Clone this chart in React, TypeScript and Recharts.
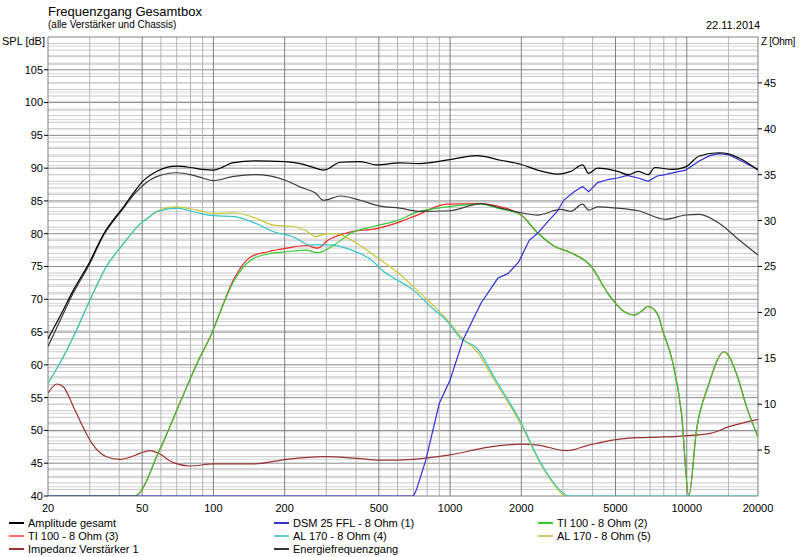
import React from 'react';
import { LineChart, Line, XAxis, YAxis, ReferenceLine } from 'recharts';

// ---- tick labels ----
const xTicks = [20, 50, 100, 200, 500, 1000, 2000, 5000, 10000, 20000];
const xMinorGrid = [30, 40, 60, 70, 80, 90, 300, 400, 600, 700, 800, 900, 3000, 4000, 6000, 7000, 8000, 9000, 15000];
const leftTicks = [40, 45, 50, 55, 60, 65, 70, 75, 80, 85, 90, 95, 100, 105];
const rightTicks = [5, 10, 15, 20, 25, 30, 35, 40, 45];

// ---- Amplitude gesamt ----
const ampF = [20, 22.4, 25.6, 30, 34.4, 41.7, 47, 50, 57.5, 70, 80, 90, 100, 110, 120, 150, 200, 233, 260, 292, 345, 417, 490, 614, 745, 1000, 1300, 1635, 1985, 2343, 2850, 3236, 3628, 3850, 4200, 5100, 5668, 6237, 6870, 7340, 8680, 9900, 11300, 13700, 15100, 16700, 20000];
const ampV = [64.0, 67.3, 71.4, 75.7, 80.0, 84.1, 86.7, 87.9, 89.5, 90.3, 90.1, 89.8, 89.7, 90.2, 90.8, 91.1, 91.0, 90.7, 90.2, 89.7, 90.9, 91.0, 90.5, 90.8, 90.7, 91.3, 91.9, 91.2, 90.6, 89.7, 89.1, 89.5, 90.5, 89.2, 90.0, 89.5, 89.0, 89.5, 89.0, 90.1, 89.8, 90.2, 91.85, 92.35, 92.15, 91.5, 89.7];

// ---- Energiefrequenzgang ----
const enF = [20, 22.4, 25.6, 30, 34.4, 41.7, 47, 57.5, 70, 80, 90, 100, 120, 150, 200, 233, 270, 292, 345, 417, 506, 614, 745, 1000, 1346, 1635, 1985, 2343, 2936, 3236, 3628, 3850, 4200, 5100, 6237, 8100, 9900, 11300, 13700, 16700, 20000];
const enV = [62.8, 66.6, 71.0, 75.4, 79.8, 83.9, 86.3, 88.7, 89.3, 89.0, 88.5, 88.1, 88.7, 89.0, 88.2, 87.1, 86.2, 85.1, 85.75, 85.1, 84.2, 83.9, 83.4, 83.5, 84.6, 83.9, 83.2, 82.85, 83.7, 83.4, 84.5, 83.6, 84.1, 83.9, 83.5, 82.2, 82.85, 82.95, 81.6, 79.0, 76.75];

// ---- DSM 25 FFL - 8 Ohm (1) ----
const dsmF = [20, 700, 720, 790, 900, 1000, 1140, 1350, 1590, 1760, 1950, 2160, 2350, 2580, 2830, 3020, 3340, 3628, 3850, 4200, 4700, 5100, 5600, 6237, 6870, 7500, 8100, 9000, 9900, 11300, 12500, 13700, 15100, 16700, 20000];
const dsmV = [40, 40, 40.9, 45.5, 54.1, 57.7, 64.0, 69.4, 73.2, 73.95, 75.7, 79.0, 80.1, 81.8, 83.35, 85.1, 86.4, 87.2, 86.4, 87.8, 88.3, 88.5, 88.9, 88.5, 88.0, 88.8, 89.0, 89.4, 89.7, 91.1, 91.9, 92.2, 92.0, 91.25, 89.8];

// ---- TI 100 - 8 Ohm (2) ----
const ti2F = [20, 46.5, 59.2, 72, 87.8, 97.6, 103.5, 122.5, 144, 170, 204, 247, 275, 324, 384, 475, 618, 700, 975, 1350, 1590, 1995, 2350, 2750, 3240, 3950, 4640, 5445, 5990, 6500, 6830, 7300, 7610, 7900, 8680, 9500, 10200, 11000, 12300, 14400, 16200, 17900, 20000];
const ti2V = [40, 40, 47.0, 54.1, 61.2, 64.5, 66.8, 72.9, 76.0, 76.9, 77.25, 77.5, 77.1, 78.3, 80.15, 81.1, 82.2, 83.1, 84.1, 84.5, 83.9, 82.85, 80.1, 78.1, 77.1, 75.0, 70.9, 68.1, 67.6, 68.3, 68.9, 68.4, 67.35, 65.3, 60.7, 52.6, 40.0, 50.1, 56.7, 62.0, 58.7, 53.6, 49.0];

// ---- TI 100 - 8 Ohm (3) ----
const ti3F = [20, 46.5, 59.2, 72, 87.8, 97.6, 103.5, 122.5, 144, 170, 204, 247, 275, 305, 384, 475, 618, 700, 975, 1350, 1590, 1995, 2350, 2750, 3240, 3950, 4640, 5445, 5990, 6500, 6830, 7300, 7610, 7900, 8680, 9500, 10200, 11000, 12300, 14400, 16200, 17900, 20000];
const ti3V = [40, 40, 47.0, 54.1, 61.2, 64.5, 66.8, 73.2, 76.5, 77.25, 77.8, 78.2, 77.8, 79.0, 80.3, 80.7, 81.85, 82.6, 84.5, 84.6, 84.2, 82.85, 80.1, 78.1, 77.1, 75.0, 70.9, 68.1, 67.6, 68.3, 68.9, 68.4, 67.35, 65.3, 60.7, 52.6, 40.0, 50.1, 56.7, 62.0, 58.7, 53.6, 49.0];

// ---- AL 170 - 8 Ohm (4) ----
const al4F = [20, 22.4, 25.6, 30.1, 35.3, 41.7, 49, 53.8, 57.5, 70, 85.5, 100, 122.6, 148, 180, 218, 255, 305, 384, 475, 506, 580, 700, 826, 975, 1110, 1300, 1530, 2000, 2420, 3020, 3150, 20000];
const al4V = [57.2, 60.2, 64.3, 69.9, 75.0, 78.5, 81.5, 82.6, 83.35, 83.9, 83.2, 82.75, 82.6, 81.7, 80.3, 79.5, 78.3, 78.3, 77.5, 75.7, 74.7, 73.2, 71.4, 68.9, 66.6, 64.0, 62.5, 58.2, 51.1, 45.0, 40.4, 40, 40];

// ---- AL 170 - 8 Ohm (5) ----
const al5F = [20, 22.4, 25.6, 30.1, 35.3, 41.7, 49, 53.8, 57.5, 70, 85.5, 100, 122.6, 148, 180, 218, 255, 268, 305, 324, 384, 475, 618, 700, 975, 1110, 1300, 1530, 2000, 2420, 3000, 3050];
const al5V = [57.2, 60.2, 64.3, 69.9, 75.0, 78.5, 81.5, 82.6, 83.4, 84.1, 83.6, 83.1, 83.2, 82.5, 81.3, 81.1, 80.1, 79.55, 80.0, 80.0, 79.0, 76.75, 73.7, 71.9, 66.8, 64.3, 62.0, 57.8, 50.8, 44.8, 40.2, 40];

// ---- Impedanz Verstärker 1 (Ohm) ----
const impF = [20, 21.8, 23.2, 25.6, 28.3, 31.0, 35.3, 40.4, 44.3, 48.9, 53.8, 58.6, 67.7, 79.4, 100, 148, 204, 292, 405, 506, 700, 1000, 1440, 2000, 2350, 3100, 3850, 5100, 6900, 9400, 12600, 15100, 20000];
const impV = [11.2, 12.2, 11.9, 9.73, 7.37, 5.56, 4.28, 4.0, 4.21, 4.65, 4.94, 4.65, 3.63, 3.27, 3.49, 3.49, 4.0, 4.28, 4.1, 3.9, 4.0, 4.47, 5.3, 5.66, 5.55, 4.94, 5.55, 6.17, 6.39, 6.53, 6.83, 7.55, 8.35];

const zip = (f: number[], v: number[]) => f.map((x, i) => ({ f: x, v: v[i] }));

const dbMinor: number[] = [];
for (let d = 41; d < 110; d++) if (d % 5 !== 0) dbMinor.push(d);
const ohmMinor: number[] = [];
for (let o = 1; o < 50; o++) ohmMinor.push(o);
const dbMajor = [45, 50, 55, 60, 65, 70, 75, 80, 85, 90, 95, 100, 105];

const FONT = '"Liberation Sans", Arial, sans-serif';

const legendItems = [
  { name: 'Amplitude gesamt', color: '#000000', x: 9, y: 523 },
  { name: 'DSM 25 FFL - 8 Ohm (1)', color: '#3333cc', x: 274, y: 523 },
  { name: 'TI 100 - 8 Ohm (2)', color: '#33cc33', x: 538, y: 523 },
  { name: 'TI 100 - 8 Ohm (3)', color: '#ff7070', x: 9, y: 536 },
  { name: 'AL 170 - 8 Ohm (4)', color: '#66cccc', x: 274, y: 536 },
  { name: 'AL 170 - 8 Ohm (5)', color: '#cccc66', x: 538, y: 536 },
  { name: 'Impedanz Verstärker 1', color: '#993333', x: 9, y: 549 },
  { name: 'Energiefrequenzgang', color: '#333333', x: 274, y: 549 },
];

const txt = (s: string, left: number, top: number, size: number, extra: any = {}) => (
  <div style={{ position: 'absolute', left, top, fontSize: size, lineHeight: `${size + 2}px`, fontFamily: FONT, color: '#000', whiteSpace: 'nowrap', ...extra }}>{s}</div>
);

export default function App() {
  const tickStyle = { fontSize: 11, fill: '#000', fontFamily: FONT };
  return (
    <div style={{ position: 'absolute', left: 0, top: 0, width: 800, height: 557, background: '#fff', overflow: 'hidden' }}>
      <LineChart width={800} height={557} margin={{ top: 37, right: 0, bottom: 41, left: 0 }}>
        <XAxis dataKey="f" type="number" scale="log" domain={[20, 20000]} allowDataOverflow ticks={xTicks}
          tick={tickStyle} tickLine={false} axisLine={false} height={20} tickSize={6} interval={0} />
        <YAxis yAxisId="l" type="number" domain={[40, 110]} allowDataOverflow ticks={leftTicks} width={48}
          tick={tickStyle} tickSize={4} tickMargin={1} tickLine={{ stroke: '#000' }} axisLine={false} interval={0} />
        <YAxis yAxisId="r" orientation="right" type="number" domain={[0, 50]} allowDataOverflow ticks={rightTicks} width={42}
          tick={tickStyle} tickSize={4} tickMargin={2} tickLine={{ stroke: '#000' }} axisLine={false} interval={0} />

        {ohmMinor.map((o) => (
          <ReferenceLine key={'o' + o} yAxisId="r" y={o} stroke="#d4d4d4" strokeWidth={1} />
        ))}
        {dbMinor.map((d) => (
          <ReferenceLine key={'d' + d} yAxisId="l" y={d} stroke="#c8c8c8" strokeWidth={1} />
        ))}
        {dbMajor.map((d) => (
          <ReferenceLine key={'D' + d} yAxisId="l" y={d} stroke="#8a8a8a" strokeWidth={1} />
        ))}
        {xMinorGrid.map((f) => (
          <ReferenceLine key={'x' + f} yAxisId="l" x={f} stroke="#b4b4b4" strokeWidth={1} />
        ))}
        {xTicks.slice(1, -1).map((f) => (
          <ReferenceLine key={'X' + f} yAxisId="l" x={f} stroke="#808080" strokeWidth={1} />
        ))}
        <ReferenceLine yAxisId="l" x={20} stroke="#808080" />
        <ReferenceLine yAxisId="l" x={20000} stroke="#808080" />
        <ReferenceLine yAxisId="l" y={40} stroke="#808080" />
        <ReferenceLine yAxisId="l" y={110} stroke="#808080" />

        <Line yAxisId="r" data={zip(impF, impV)} dataKey="v" type="monotone" stroke="#993333" strokeWidth={1.2} dot={false} isAnimationActive={false} />
        <Line yAxisId="l" data={zip(ti3F, ti3V)} dataKey="v" type="monotone" stroke="#ee2a2a" strokeWidth={1.2} dot={false} isAnimationActive={false} />
        <Line yAxisId="l" data={zip(ti2F, ti2V)} dataKey="v" type="monotone" stroke="#33cc33" strokeWidth={1.2} dot={false} isAnimationActive={false} />
        <Line yAxisId="l" data={zip(al5F, al5V)} dataKey="v" type="monotone" stroke="#c8c832" strokeWidth={1.2} dot={false} isAnimationActive={false} />
        <Line yAxisId="l" data={zip(al4F, al4V)} dataKey="v" type="monotone" stroke="#33c6c6" strokeWidth={1.2} dot={false} isAnimationActive={false} />
        <Line yAxisId="l" data={zip(dsmF, dsmV)} dataKey="v" type="linear" stroke="#3030dd" strokeWidth={1.2} dot={false} isAnimationActive={false} />
        <Line yAxisId="l" data={zip(enF, enV)} dataKey="v" type="monotone" stroke="#3c3c3c" strokeWidth={1.2} dot={false} isAnimationActive={false} />
        <Line yAxisId="l" data={zip(ampF, ampV)} dataKey="v" type="monotone" stroke="#000000" strokeWidth={1.2} dot={false} isAnimationActive={false} />
      </LineChart>

      {txt('Frequenzgang Gesamtbox', 48, 4, 13)}
      {txt('(alle Verstärker und Chassis)', 48, 19, 10)}
      {txt('22.11.2014', 706, 19, 11)}
      {txt('SPL [dB]', 2, 35, 11)}
      {txt('Z [Ohm]', 761, 36, 10, { letterSpacing: '-0.3px' })}

      {legendItems.map((it) => (
        <div key={it.name} style={{ position: 'absolute', left: it.x, top: it.y - 7, height: 14, display: 'flex', alignItems: 'center', fontFamily: FONT, fontSize: 11, whiteSpace: 'nowrap' }}>
          <div style={{ width: 15, height: 1.5, background: it.color, marginRight: 4 }} />
          <span>{it.name}</span>
        </div>
      ))}
    </div>
  );
}
